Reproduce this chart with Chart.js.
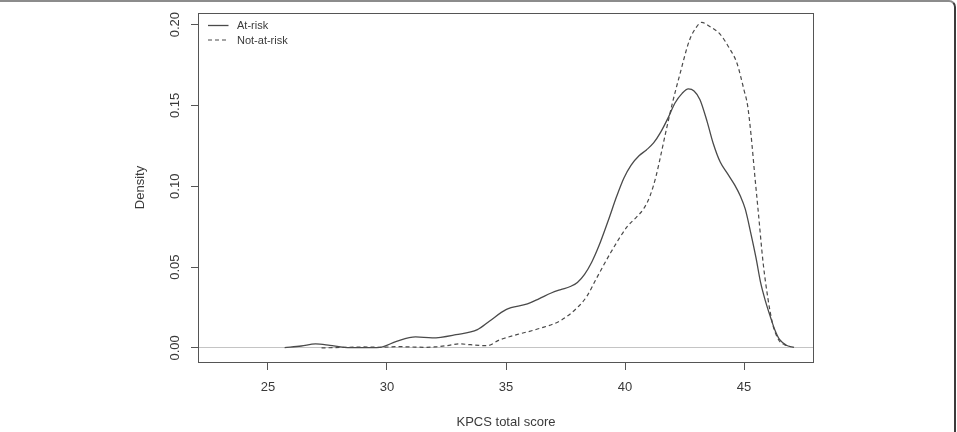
<!DOCTYPE html>
<html><head><meta charset="utf-8">
<script src="https://cdn.jsdelivr.net/npm/chart.js@4/dist/chart.umd.min.js"></script>
<style>
html,body{margin:0;padding:0;background:#fff;overflow:hidden}
#wrap{position:relative;width:957px;height:432px;overflow:hidden}
#frame{position:absolute;top:0;left:-20px;right:1px;height:520px;border-top:2px solid #8c8c8c;border-right:2px solid #3c3c3c;border-top-right-radius:7px;pointer-events:none;box-sizing:border-box}
</style></head><body>
<div id="wrap"><canvas id="c" width="957" height="432"></canvas><div id="frame"></div></div>
<script>
const xTicks = [25, 30, 35, 40, 45];
const yTicks = [0, 0.05, 0.10, 0.15, 0.20];
const yTickLabels = ['0.00', '0.05', '0.10', '0.15', '0.20'];
const seriesNames = ['At-risk', 'Not-at-risk'];
const xTitle = 'KPCS total score';
const yTitle = 'Density';

const atRiskX = [25.7, 26.4, 27.0, 27.6, 28.2, 29.0, 29.7, 30.4, 31.2, 31.9, 32.9, 33.8, 34.3, 35.0, 35.9, 36.4, 36.9, 37.3, 37.7, 38.0, 38.3, 38.6, 38.9, 39.3, 39.65, 39.95, 40.25, 40.6, 40.9, 41.2, 41.5, 41.8, 42.1, 42.4, 42.66, 42.9, 43.15, 43.45, 43.7, 44.0, 44.3, 44.6, 44.85, 45.05, 45.3, 45.5, 45.7, 45.9, 46.1, 46.3, 46.5, 46.8, 47.1];
const atRiskY = [0.0002, 0.0012, 0.0025, 0.0016, 0.0004, 0.0002, 0.0004, 0.0041, 0.0068, 0.0062, 0.0082, 0.0113, 0.0165, 0.0237, 0.0272, 0.0305, 0.0340, 0.0361, 0.0380, 0.0405, 0.0455, 0.0530, 0.0630, 0.0790, 0.0938, 0.1050, 0.1130, 0.1190, 0.1225, 0.1268, 0.1335, 0.1420, 0.1515, 0.1575, 0.1602, 0.1590, 0.1536, 0.1400, 0.1268, 0.1150, 0.1080, 0.1010, 0.0938, 0.0860, 0.0700, 0.0560, 0.0402, 0.0290, 0.0196, 0.0110, 0.0051, 0.0015, 0.0003];

const notAtRiskX = [27.25, 27.8, 28.4, 29.0, 29.7, 30.5, 31.0, 31.6, 32.0, 32.5, 33.05, 33.5, 34.2, 34.75, 35.45, 36.4, 37.3, 38.0, 38.4, 38.8, 39.4, 40.1, 40.5, 40.8, 41.05, 41.3, 41.5, 41.75, 42.0, 42.3, 42.7, 43.0, 43.22, 43.6, 44.0, 44.4, 44.7, 45.0, 45.15, 45.3, 45.45, 45.6, 45.8, 46.0, 46.2, 46.45, 46.7, 46.95];
const notAtRiskY = [0.0000, 0.0002, 0.0004, 0.0006, 0.0004, 0.0008, 0.0006, 0.0004, 0.0006, 0.0014, 0.0025, 0.0020, 0.0014, 0.0051, 0.0082, 0.0120, 0.0170, 0.0250, 0.0320, 0.0430, 0.0590, 0.0752, 0.0812, 0.0865, 0.0940, 0.1060, 0.1190, 0.1360, 0.1520, 0.1690, 0.1900, 0.1985, 0.2014, 0.1985, 0.1940, 0.1850, 0.1763, 0.1595, 0.1500, 0.1310, 0.1070, 0.0840, 0.0530, 0.0310, 0.0150, 0.0051, 0.0020, 0.0008];

const toPoints = (xs, ys) => xs.map((v, i) => ({x: v, y: ys[i]}));
const FONT = '"Liberation Sans", Arial, Helvetica, sans-serif';
const INK = '#3a3a3a';
const LINE = '#4a4a4a';

const decor = {
  id: 'decor',
  afterDraw(chart) {
    const {ctx, chartArea: a, scales: {y}} = chart;
    ctx.save();
    // plot box
    ctx.strokeStyle = '#555';
    ctx.lineWidth = 1;
    ctx.strokeRect(Math.round(a.left) + 0.5, Math.round(a.top) + 0.5,
                   Math.round(a.right - a.left) - 1, Math.round(a.bottom - a.top));
    // y tick labels (vertical, R style)
    ctx.fillStyle = INK;
    ctx.font = '13px ' + FONT;
    ctx.textAlign = 'center';
    ctx.textBaseline = 'middle';
    yTicks.forEach((v, i) => {
      ctx.save();
      ctx.translate(175.5, y.getPixelForValue(v));
      ctx.rotate(-Math.PI / 2);
      ctx.fillText(yTickLabels[i], 0, 0);
      ctx.restore();
    });
    // legend
    ctx.font = '11px ' + FONT;
    ctx.textAlign = 'left';
    chart.data.datasets.forEach((ds, i) => {
      const ly = 25.5 + i * 14.5;
      ctx.strokeStyle = ds.borderColor;
      ctx.lineWidth = ds.borderWidth;
      ctx.setLineDash(ds.borderDash || []);
      ctx.beginPath();
      ctx.moveTo(208, ly);
      ctx.lineTo(228.5, ly);
      ctx.stroke();
      ctx.setLineDash([]);
      ctx.fillStyle = INK;
      ctx.fillText(ds.label, 237, ly + 0.5);
    });
    ctx.restore();
  }
};

new Chart(document.getElementById('c'), {
  type: 'line',
  data: {
    datasets: [
      {label: seriesNames[0], data: toPoints(atRiskX, atRiskY), borderColor: LINE, borderWidth: 1.3,
       pointRadius: 0, fill: false, cubicInterpolationMode: 'monotone'},
      {label: seriesNames[1], data: toPoints(notAtRiskX, notAtRiskY), borderColor: LINE, borderWidth: 1.2,
       borderDash: [4, 3], pointRadius: 0, fill: false, cubicInterpolationMode: 'monotone'}
    ]
  },
  options: {
    responsive: false,
    animation: false,
    events: [],
    layout: {padding: {left: 0, top: 13, right: 143, bottom: 0}},
    plugins: {legend: {display: false}, tooltip: {enabled: false}},
    scales: {
      x: {
        type: 'linear', min: 22.06, max: 47.94,
        afterBuildTicks: s => { s.ticks = xTicks.map(v => ({value: v})); },
        afterFit: s => { s.height = 70; },
        border: {display: false},
        grid: {drawOnChartArea: false, drawTicks: true, tickLength: 8, tickColor: '#555', lineWidth: 1},
        ticks: {color: INK, font: {family: FONT, size: 13}, padding: 10, maxRotation: 0, autoSkip: false},
        title: {display: true, text: xTitle, color: INK, font: {family: FONT, size: 13}, padding: {top: 0, bottom: 2}}
      },
      y: {
        type: 'linear', min: -0.0087, max: 0.2072,
        afterBuildTicks: s => { s.ticks = yTicks.map(v => ({value: v})); },
        afterFit: s => { s.width = 198; },
        border: {display: false},
        grid: {
          drawOnChartArea: true, drawTicks: true, tickLength: 7, tickColor: '#555', lineWidth: 1,
          color: c => (c.tick && c.tick.value === 0) ? '#c4c4c4' : 'rgba(0,0,0,0)'
        },
        ticks: {display: false},
        title: {display: true, text: yTitle, color: INK, font: {family: FONT, size: 13}, padding: {top: 133, bottom: 0}}
      }
    }
  },
  plugins: [decor]
});
</script>
</body></html>
